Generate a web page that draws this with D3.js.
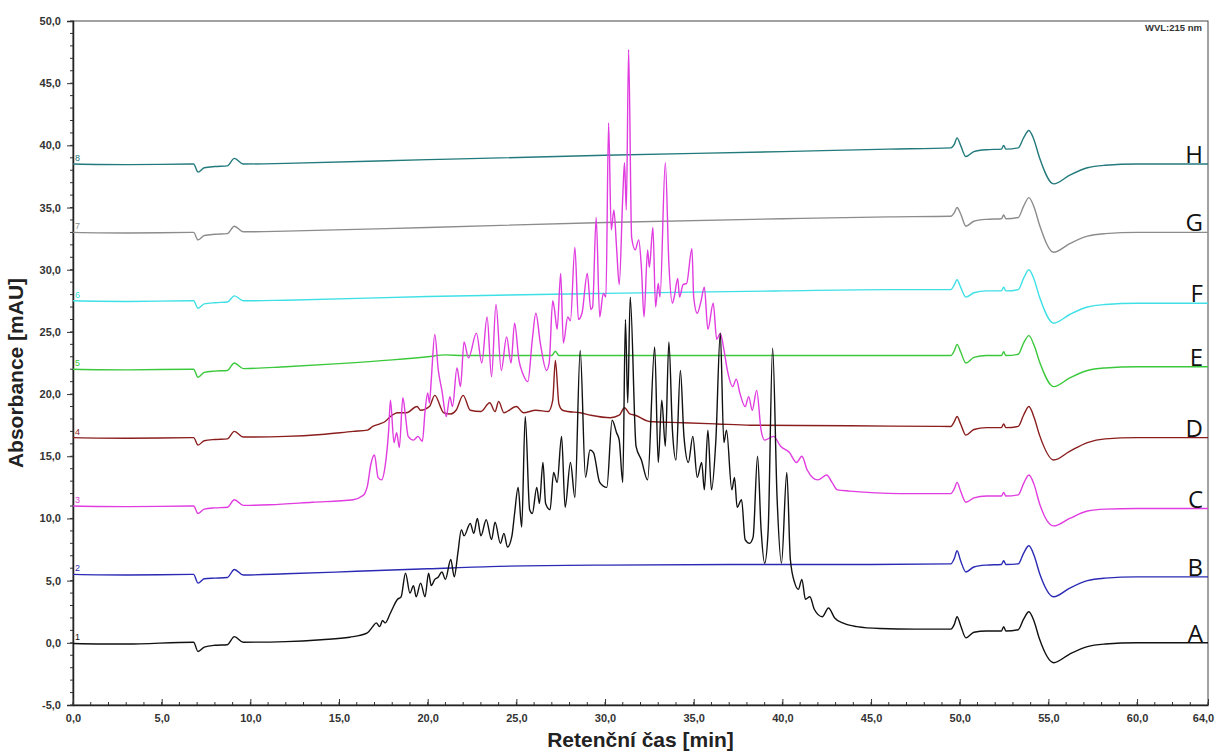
<!DOCTYPE html>
<html>
<head>
<meta charset="utf-8">
<script src="https://cdn.jsdelivr.net/npm/d3@7"></script>
<style>
  body { margin: 0; background: #fff; }
  svg { display: block; font-family: "Liberation Sans", Arial, sans-serif; }
</style>
</head>
<body>
<div id="chart"></div>
<script>
// chromatogram data, [retention time (min), absorbance (mAU)]

var trace1 = [[0,-0.05],[3,-0.1],[6.8,0.05],[7.05,-0.7],[7.4,-0.35],[8,-0.2],[8.7,-0.15],[9.1,0.5],[9.6,0.05],
  [12,0.1],[14,0.25],[15.6,0.45],[16.6,0.8],[16.9,1.3],[17.1,1.6],[17.3,1.3],[17.45,1.8],[17.6,1.6],[17.9,2.4],
  [18.3,3.5],[18.5,3.7],[18.75,5.6],[19.0,4.0],[19.2,4.6],[19.35,3.7],[19.6,4.8],[19.85,3.7],[20.05,5.6],[20.2,4.6],
  [20.4,5.1],[20.6,5.3],[20.8,5.7],[21.0,5.1],[21.3,6.7],[21.5,5.3],[21.7,7.2],[21.9,9.1],[22.05,8.6],[22.4,9.6],
  [22.6,8.8],[22.8,10.0],[23.0,8.6],[23.3,9.9],[23.6,8.3],[23.8,9.7],[24.1,8.0],[24.3,8.8],[24.5,7.7],[24.75,8.6],
  [24.9,10.4],[25.1,12.5],[25.3,9.3],[25.5,18.2],[25.75,10.7],[25.9,10.4],[26.15,12.5],[26.3,11.2],[26.5,14.5],
  [26.65,11.2],[26.9,10.7],[27.1,13.7],[27.3,12.9],[27.55,16.6],[27.75,10.9],[28.05,14.5],[28.3,11.7],[28.6,23.5],
  [28.9,13.3],[29.15,15.5],[29.35,15.3],[29.7,12.9],[30.1,12.5],[30.4,17.9],[30.65,16.9],[30.8,16.3],[31.0,12.9],
  [31.15,26.0],[31.28,19.3],[31.42,27.8],[31.75,15.8],[32.05,14.7],[32.4,13.1],[32.8,23.8],[33.0,14.5],[33.2,19.5],
  [33.4,15.8],[33.6,24.2],[33.8,17.1],[34.0,14.7],[34.25,21.9],[34.45,16.6],[34.7,14.5],[34.95,16.6],[35.2,13.3],
  [35.45,14.5],[35.6,12.3],[35.8,17.1],[36.0,12.3],[36.25,16.3],[36.5,24.9],[36.7,16.1],[36.85,17.1],[37.15,12.3],
  [37.3,13.3],[37.45,10.9],[37.7,11.5],[37.9,8.3],[38.15,8.0],[38.35,8.5],[38.6,15.0],[38.8,9.1],[39.0,6.4],
  [39.2,9.1],[39.45,23.7],[39.7,11.7],[39.95,6.4],[40.25,13.7],[40.45,6.7],[40.7,4.8],[40.9,4.3],[41.1,5.1],
  [41.3,3.5],[41.55,3.7],[41.8,2.7],[42.25,2.1],[42.6,2.8],[42.95,2.0],[43.4,1.6],[44.2,1.3],[45.5,1.15],
  [47.5,1.1],[49.5,1.1],[49.7,1.5],[49.85,2.1],[50.05,1.4],[50.35,0.4],[50.8,0.85],[51.5,0.95],[52.35,0.95],
  [52.48,1.3],[52.6,0.95],[53.3,1.05],[53.6,1.9],[53.9,2.5],[54.2,1.7],[54.5,0.3],[55.3,-1.6],[56.2,-0.9],
  [57.2,-0.3],[58.2,-0.1],[60,0.0],[64,0.0]];

var trace2 = [[0,5.5],[3,5.45],[6.8,5.5],[7.05,4.8],[7.4,5.15],[8,5.2],[8.7,5.25],[9.1,5.9],[9.6,5.45],[12,5.55],
  [16,5.75],[20,5.95],[24,6.15],[30,6.25],[40,6.3],[45,6.3],[49.5,6.35],[49.7,6.8],[49.85,7.4],[50.05,6.6],
  [50.35,5.7],[50.8,6.1],[51.5,6.25],[52.35,6.3],[52.48,6.6],[52.6,6.3],[53.3,6.35],[53.6,7.2],[53.9,7.8],
  [54.2,7.0],[54.5,5.6],[55.3,3.7],[56.2,4.4],[57.2,5.0],[58.2,5.2],[60,5.3],[64,5.3]];

var trace3 = [[0,11.0],[3,10.95],[6.8,11.0],[7.05,10.4],[7.4,10.75],[8,10.85],[8.7,10.9],[9.1,11.5],[9.6,11.05],
  [11.1,11.1],[13.5,11.3],[15.8,11.5],[16.3,11.8],[16.45,12.0],[16.6,12.6],[16.8,14.4],[17.0,15.1],[17.2,13.3],
  [17.4,13.1],[17.6,14.2],[17.8,17.1],[17.9,19.5],[18.1,16.1],[18.25,16.9],[18.4,15.7],[18.6,19.7],[18.75,18.2],
  [18.9,16.6],[19.2,16.3],[19.45,16.6],[19.7,16.2],[19.85,18.6],[20.0,20.1],[20.1,19.3],[20.2,21.1],[20.4,24.8],
  [20.6,21.9],[20.8,20.3],[21.05,18.2],[21.25,19.8],[21.4,19.0],[21.65,22.1],[21.85,20.6],[22.05,24.2],[22.3,22.9],
  [22.75,24.9],[23.05,22.5],[23.35,26.2],[23.6,21.4],[23.85,27.2],[24.15,21.9],[24.45,24.6],[24.7,22.5],[24.9,25.7],
  [25.15,22.7],[25.35,21.7],[25.65,21.0],[25.9,24.4],[26.1,26.5],[26.35,24.1],[26.7,21.9],[26.85,22.5],[27.05,27.5],
  [27.15,26.8],[27.3,25.2],[27.5,29.7],[27.65,24.1],[27.9,26.2],[28.05,25.9],[28.3,31.8],[28.5,26.0],[28.7,26.5],
  [29.0,29.7],[29.2,26.8],[29.3,27.0],[29.5,34.2],[29.7,26.2],[29.9,28.1],[30.05,27.8],[30.2,41.8],[30.35,33.2],
  [30.5,34.8],[30.65,31.8],[30.8,28.8],[31.0,35.9],[31.1,38.6],[31.2,34.8],[31.33,47.7],[31.5,32.6],[31.7,31.6],
  [31.9,32.4],[32.05,30.2],[32.2,26.2],[32.4,31.6],[32.5,30.2],[32.7,33.4],[32.85,27.0],[33.0,28.9],[33.1,27.8],
  [33.4,38.6],[33.6,30.5],[33.8,27.3],[33.9,27.8],[34.1,29.3],[34.2,27.8],[34.4,28.8],[34.6,28.9],[34.9,31.7],
  [35.0,27.8],[35.2,26.5],[35.4,27.4],[35.6,28.6],[35.8,25.2],[36.1,27.3],[36.3,24.4],[36.5,24.9],[36.7,23.6],
  [36.9,21.9],[37.2,20.6],[37.4,21.2],[37.6,20.1],[37.9,19.0],[38.1,19.8],[38.3,18.7],[38.55,20.3],[38.8,17.1],
  [39.0,16.3],[39.5,16.6],[39.9,15.8],[40.4,15.3],[40.8,14.5],[41.1,15.0],[41.4,13.9],[41.7,13.3],[42.0,13.1],
  [42.5,13.5],[42.8,12.9],[43.1,12.3],[43.8,12.2],[46.6,12.0],[49.5,12.0],[49.7,12.4],[49.85,12.9],[50.05,12.2],
  [50.35,11.3],[50.8,11.65],[51.5,11.8],[52.35,11.8],[52.48,12.1],[52.6,11.8],[53.3,11.9],[53.6,12.8],[53.9,13.5],
  [54.2,12.7],[54.5,11.2],[55.3,9.4],[56.2,10.0],[57.2,10.6],[58.2,10.75],[60,10.8],[64,10.8]];

var trace4 = [[0,16.5],[3,16.45],[6.8,16.5],[7.05,15.9],[7.4,16.25],[8,16.35],[8.7,16.4],[9.1,17.0],[9.6,16.55],
  [12,16.6],[14,16.75],[15.8,17.0],[16.6,17.1],[16.9,17.4],[17.3,17.6],[17.6,17.8],[17.9,18.2],[18.3,18.5],
  [18.8,18.5],[19.4,19.0],[19.6,18.7],[20.1,19.0],[20.4,19.9],[20.9,18.5],[21.3,18.4],[21.6,18.7],[22.0,19.9],
  [22.4,18.7],[23.0,18.6],[23.5,19.3],[23.8,18.6],[24.0,19.4],[24.3,18.5],[25.0,19.0],[25.4,18.5],[26.1,18.7],
  [26.8,18.6],[27.05,19.5],[27.2,22.7],[27.4,19.2],[27.6,18.7],[27.9,18.6],[28.6,18.5],[29.2,18.3],[30.3,18.1],
  [30.8,18.3],[31.1,18.9],[31.4,18.4],[31.7,18.3],[32.5,17.8],[34.4,17.7],[36.3,17.6],[38.2,17.5],[43.8,17.45],
  [49.5,17.4],[49.7,17.8],[49.85,18.2],[50.05,17.6],[50.35,16.7],[50.8,17.15],[51.5,17.3],[52.35,17.3],[52.48,17.6],
  [52.6,17.3],[53.3,17.4],[53.6,18.3],[53.9,19.0],[54.2,18.1],[54.5,16.7],[55.3,14.7],[56.2,15.4],[57.2,16.1],
  [58.2,16.4],[60,16.5],[64,16.5]];

var trace5 = [[0,22.0],[3,21.95],[6.8,22.0],[7.05,21.35],[7.4,21.75],[8,21.85],[8.7,21.9],[9.1,22.5],[9.6,22.05],
  [12,22.2],[15,22.45],[18,22.75],[20,23.0],[21,23.15],[22,23.1],[25,23.1],[27.0,23.1],[27.2,23.45],[27.4,23.1],
  [30,23.1],[40,23.1],[46,23.1],[49.5,23.1],[49.7,23.5],[49.85,24.0],[50.05,23.4],[50.35,22.5],[50.8,22.95],
  [51.5,23.1],[52.35,23.1],[52.48,23.4],[52.6,23.1],[53.3,23.2],[53.6,24.1],[53.9,24.7],[54.2,23.9],[54.5,22.6],
  [55.3,20.6],[56.2,21.3],[57.2,21.9],[58.2,22.1],[60,22.2],[64,22.2]];

var trace6 = [[0,27.5],[3,27.45],[6.8,27.5],[7.05,26.9],[7.4,27.25],[8,27.35],[8.7,27.4],[9.1,27.9],[9.6,27.5],
  [12,27.55],[20,27.85],[30,28.1],[40,28.3],[46,28.4],[49.5,28.4],[49.7,28.8],[49.85,29.2],[50.05,28.6],
  [50.35,27.8],[50.8,28.15],[51.5,28.3],[52.35,28.3],[52.48,28.6],[52.6,28.3],[53.3,28.4],[53.6,29.3],[53.9,30.0],
  [54.2,29.2],[54.5,27.8],[55.3,25.7],[56.2,26.4],[57.2,27.0],[58.2,27.2],[60,27.3],[64,27.3]];

var trace7 = [[0,33.0],[3,32.95],[6.8,33.0],[7.05,32.4],[7.4,32.75],[8,32.85],[8.7,32.9],[9.1,33.5],[9.6,33.05],
  [12,33.1],[20,33.4],[30,33.8],[40,34.1],[46,34.25],[49.5,34.3],[49.7,34.6],[49.85,35.0],[50.05,34.5],
  [50.35,33.5],[50.8,33.9],[51.5,34.05],[52.35,34.1],[52.48,34.4],[52.6,34.1],[53.3,34.2],[53.6,35.1],[53.9,35.8],
  [54.2,35.0],[54.5,33.6],[55.3,31.4],[56.2,32.1],[57.2,32.7],[58.2,32.9],[60,33.0],[64,33.0]];

var trace8 = [[0,38.5],[3,38.45],[6.8,38.5],[7.05,37.85],[7.4,38.2],[8,38.3],[8.7,38.35],[9.1,38.95],[9.6,38.5],
  [12,38.55],[20,38.85],[30,39.2],[40,39.5],[46,39.7],[49.5,39.8],[49.7,40.1],[49.85,40.6],[50.05,40.0],
  [50.35,39.1],[50.8,39.5],[51.5,39.65],[52.35,39.7],[52.48,40.0],[52.6,39.7],[53.3,39.8],[53.6,40.6],[53.9,41.2],
  [54.2,40.4],[54.5,39.0],[55.3,36.9],[56.2,37.6],[57.2,38.2],[58.2,38.4],[60,38.5],[64,38.5]];

var traceNumbers = ["1", "2", "3", "4", "5", "6", "7", "8"];
var traceLetters = ["A", "B", "C", "D", "E", "F", "G", "H"];
var xTicks = [0, 5, 10, 15, 20, 25, 30, 35, 40, 45, 50, 55, 60, 64];
var yTicks = [-5, 0, 5, 10, 15, 20, 25, 30, 35, 40, 45, 50];
var xTitle = "Retenční čas [min]";
var yTitle = "Absorbance [mAU]";
var wvlLabel = "WVL:215 nm";

// styling
var traceColors = ["#111111", "#2a2ab4", "#e03ce0", "#8a1e1e", "#3cc83c", "#3ee0e6", "#8c8c8c", "#237a7c"];

var traces = [trace1, trace2, trace3, trace4, trace5, trace6, trace7, trace8];

var margin = {top: 21, right: 8, bottom: 46, left: 73},
    width = 1216 - margin.left - margin.right,
    height = 751 - margin.top - margin.bottom;

var svg = d3.select("#chart").append("svg")
    .attr("width", 1216)
    .attr("height", 751)
  .append("g")
    .attr("transform", "translate(" + margin.left + "," + margin.top + ")");

var x = d3.scaleLinear().domain([0, 64]).range([0, width]);
var y = d3.scaleLinear().domain([-5, 50]).range([height, 0]);

function fmt(v) { return v.toFixed(1).replace(".", ","); }

// frame
svg.append("rect")
    .attr("width", width)
    .attr("height", height)
    .attr("fill", "none")
    .attr("stroke", "#444")
    .attr("stroke-width", 1);

// y axis: ticks pointing out, minor every 1 mAU
svg.append("g")
    .attr("class", "yminor")
    .selectAll("line")
    .data(d3.range(-5, 51, 1))
    .enter().append("line")
      .attr("x1", -3).attr("x2", 0)
      .attr("y1", function(d) { return y(d); })
      .attr("y2", function(d) { return y(d); })
      .attr("stroke", "#333");

var yAxis = svg.append("g")
    .call(d3.axisLeft(y).tickValues(yTicks).tickFormat(fmt).tickSize(6).tickPadding(6));
yAxis.select(".domain").attr("stroke", "#222").attr("stroke-width", 1.5);
yAxis.selectAll(".tick line").attr("stroke", "#333");
yAxis.selectAll("text")
    .attr("font-family", "Liberation Sans, Arial, sans-serif")
    .attr("font-size", 11)
    .attr("font-weight", "bold")
    .attr("fill", "#333");

// x axis: ticks pointing in, minor every 1 min
svg.append("g")
    .attr("class", "xminor")
    .selectAll("line")
    .data(d3.range(0, 65, 1))
    .enter().append("line")
      .attr("x1", function(d) { return x(d); })
      .attr("x2", function(d) { return x(d); })
      .attr("y1", height - 3).attr("y2", height)
      .attr("stroke", "#333");

var xAxis = svg.append("g")
    .attr("transform", "translate(0," + height + ")")
    .call(d3.axisBottom(x).tickValues(xTicks).tickFormat(fmt).tickSizeInner(-6).tickSizeOuter(0).tickPadding(9));
xAxis.select(".domain").attr("stroke", "#222").attr("stroke-width", 1.5);
xAxis.selectAll(".tick line").attr("stroke", "#333");
xAxis.selectAll("text")
    .attr("font-family", "Liberation Sans, Arial, sans-serif")
    .attr("font-size", 11)
    .attr("font-weight", "bold")
    .attr("fill", "#333")
    .attr("dx", function(d) { return d === 64 ? -5 : 0; });

// axis titles
svg.append("text")
    .attr("x", width / 2)
    .attr("y", height + 42)
    .attr("text-anchor", "middle")
    .attr("font-size", 21)
    .attr("font-weight", "bold")
    .attr("fill", "#222")
    .text(xTitle);

svg.append("text")
    .attr("transform", "translate(" + (-50) + "," + (height / 2 + 10) + ") rotate(-90)")
    .attr("text-anchor", "middle")
    .attr("font-size", 21)
    .attr("font-weight", "bold")
    .attr("fill", "#222")
    .text(yTitle);

svg.append("text")
    .attr("x", width - 6)
    .attr("y", 10)
    .attr("text-anchor", "end")
    .attr("font-size", 9.5)
    .attr("font-weight", "bold")
    .attr("fill", "#333")
    .text(wvlLabel);

// clip the traces to the plot area
svg.append("defs").append("clipPath")
    .attr("id", "clip")
  .append("rect")
    .attr("width", width)
    .attr("height", height);

var line = d3.line()
    .curve(d3.curveMonotoneX)
    .x(function(d) { return x(d[0]); })
    .y(function(d) { return y(d[1]); });

var plot = svg.append("g").attr("clip-path", "url(#clip)");

// draw top trace first so the lower ones sit above it
plot.selectAll("path.trace")
    .data(traces.map(function(d, i) { return {i: i, pts: d}; }).reverse())
    .enter().append("path")
      .attr("class", "trace")
      .attr("fill", "none")
      .attr("stroke", function(d) { return traceColors[d.i]; })
      .attr("stroke-width", 1.4)
      .attr("stroke-linejoin", "round")
      .attr("d", function(d) { return line(d.pts); });

// trace numbers at the start of each trace
svg.selectAll("text.num")
    .data(traces)
    .enter().append("text")
      .attr("class", "num")
      .attr("x", 2)
      .attr("y", function(d) { return y(d[0][1]) - 3; })
      .attr("font-size", 9)
      .attr("fill", function(d, i) { return traceColors[i]; })
      .text(function(d, i) { return traceNumbers[i]; });

// sample letters at the right end
svg.selectAll("text.letter")
    .data(traces)
    .enter().append("text")
      .attr("class", "letter")
      .attr("x", width - 5)
      .attr("y", function(d) { return y(d[d.length - 1][1]) - 1; })
      .attr("text-anchor", "end")
      .attr("font-family", "Open Sans, sans-serif")
      .attr("font-size", 24)
      .attr("fill", "#111")
      .text(function(d, i) { return traceLetters[i]; });
</script>
</body>
</html>
